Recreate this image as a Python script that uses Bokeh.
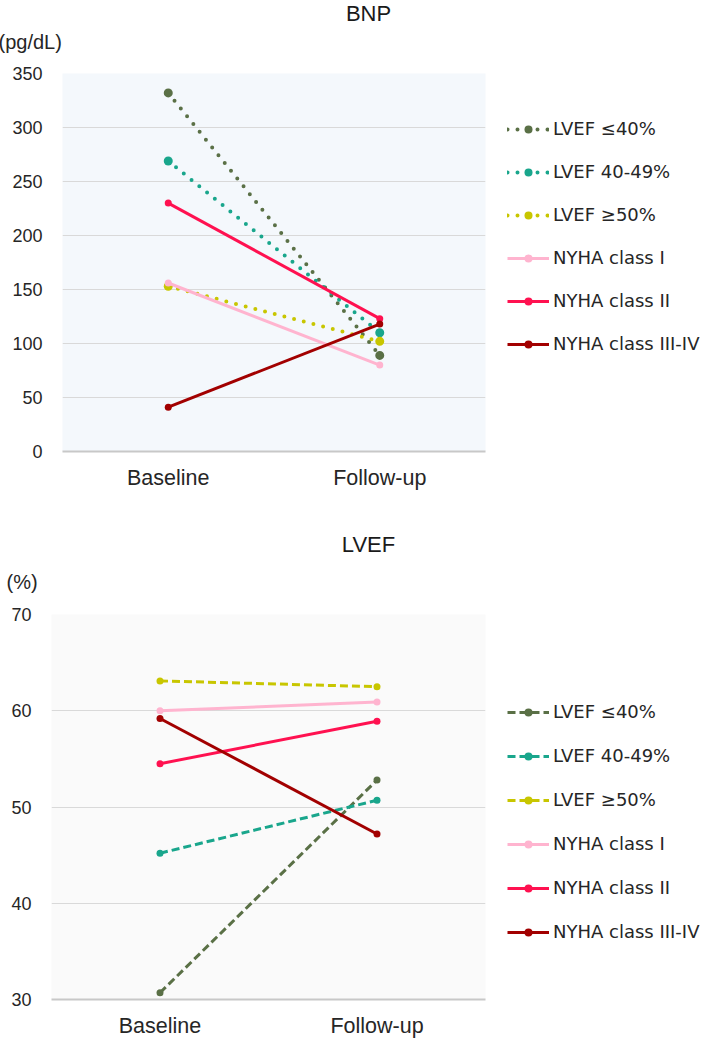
from bokeh.plotting import figure
from bokeh.layouts import column, row
from bokeh.models import Legend, LegendItem, Label, FixedTicker, Range1d
from bokeh.embed import file_html
from bokeh.resources import INLINE

# Time points and patient subgroups
timepoints = ["Baseline", "Follow-up"]
groups = ["LVEF ≤40%", "LVEF 40-49%", "LVEF ≥50%",
          "NYHA class I", "NYHA class II", "NYHA class III-IV"]
group_colors = ["#5a7046", "#19a68c", "#c8c600", "#ffb4cf", "#ff1150", "#a20000"]

# BNP (pg/dL)
bnp_baseline = [332, 269, 153, 156, 230, 41]
bnp_followup = [89, 110, 102, 80, 123, 118]
bnp_ticks = [0, 50, 100, 150, 200, 250, 300, 350]

# LVEF (%)
lvef_baseline = [30.7, 45.2, 63.1, 60.0, 54.5, 59.2]
lvef_followup = [52.8, 50.7, 62.5, 60.9, 58.9, 47.2]
lvef_ticks = [30, 40, 50, 60, 70]

AXIS_FONT = "Liberation Sans"
LEGEND_FONT = "DejaVu Sans"


def make_panel(title, unit, baseline, followup, ticks, y_lo, y_hi,
               frame_w, frame_h, left, top, bottom, bg, ef_dash, ef_width,
               ef_cap, ef_size, legend_loc, legend_spacing, title_pos,
               unit_pos):
    p = figure(x_range=timepoints, y_range=Range1d(y_lo, y_hi),
               frame_width=frame_w, frame_height=frame_h,
               output_backend="svg", toolbar_location=None,
               min_border_left=left, min_border_right=714 - left - frame_w,
               min_border_top=top, min_border_bottom=bottom)
    p.x_range.range_padding = 0
    p.border_fill_color = "white"
    p.background_fill_color = bg
    p.outline_line_color = None

    p.xgrid.grid_line_color = None
    p.ygrid.grid_line_color = "#d9d9d9"
    p.ygrid.grid_line_width = 1
    p.yaxis.ticker = FixedTicker(ticks=ticks)
    p.yaxis.axis_line_color = None
    p.yaxis.major_tick_line_color = None
    p.yaxis.minor_tick_line_color = None
    p.yaxis.major_label_standoff = 14
    p.yaxis.major_label_text_font = AXIS_FONT
    p.yaxis.major_label_text_font_size = "18px"
    p.yaxis.major_label_text_color = "#262626"
    p.xaxis.axis_line_color = "#c8c8c8"
    p.xaxis.axis_line_width = 2
    p.xaxis.major_tick_line_color = None
    p.xaxis.minor_tick_line_color = None
    p.xaxis.major_label_standoff = 8
    p.xaxis.major_label_text_font = AXIS_FONT
    p.xaxis.major_label_text_font_size = "21.5px"
    p.xaxis.major_label_text_color = "#262626"

    items = []
    for i, name in enumerate(groups):
        ys = [baseline[i], followup[i]]
        is_ef = i < 3
        line = p.line(timepoints, ys, line_color=group_colors[i],
                      line_width=ef_width if is_ef else 3,
                      line_dash=ef_dash if is_ef else "solid",
                      line_cap=ef_cap if is_ef else "butt")
        dots = p.scatter(timepoints, ys, size=ef_size if is_ef else 7,
                         fill_color=group_colors[i], line_color=None)
        items.append(LegendItem(label=name, renderers=[line, dots]))

    legend = Legend(items=items, location=legend_loc,
                    spacing=legend_spacing, padding=0, margin=0,
                    glyph_width=42, glyph_height=20, label_height=20,
                    label_standoff=4, border_line_color=None,
                    background_fill_alpha=0,
                    label_text_font=LEGEND_FONT,
                    label_text_font_size="18px",
                    label_text_color="#262626")
    p.add_layout(legend, "right")

    # chart title and unit caption, placed in the band above the plot area
    p.add_layout(Label(x=title_pos[0], y=title_pos[1], x_units="screen",
                       y_units="screen", text=title, text_align="center",
                       text_baseline="middle", text_font=AXIS_FONT,
                       text_font_size="22px", text_color="#1a1a1a"), "above")
    p.add_layout(Label(x=unit_pos[0], y=unit_pos[1], x_units="screen",
                       y_units="screen", text=unit, text_align="left",
                       text_baseline="middle", text_font=AXIS_FONT,
                       text_font_size="20px", text_color="#262626"), "above")
    return p


bnp = make_panel("BNP", "(pg/dL)", bnp_baseline, bnp_followup, bnp_ticks,
                 0, 350, frame_w=423, frame_h=378, left=62, top=73,
                 bottom=59, bg="#f4f8fc", ef_dash="0 10", ef_width=4,
                 ef_cap="round", ef_size=9, legend_loc=(22, 97),
                 legend_spacing=22, title_pos=(306, 60), unit_pos=(-64, 7))

lvef = make_panel("LVEF", "(%)", lvef_baseline, lvef_followup, lvef_ticks,
                  30, 70, frame_w=434, frame_h=385, left=51, top=104,
                  bottom=39, bg="#fafafa", ef_dash="8 4", ef_width=3,
                  ef_cap="butt", ef_size=7, legend_loc=(22, 57),
                  legend_spacing=23, title_pos=(317, 70), unit_pos=(-45, 8))

layout = column(row(bnp), row(lvef), spacing=0)
open("out.html", "w").write(file_html(layout, INLINE))
